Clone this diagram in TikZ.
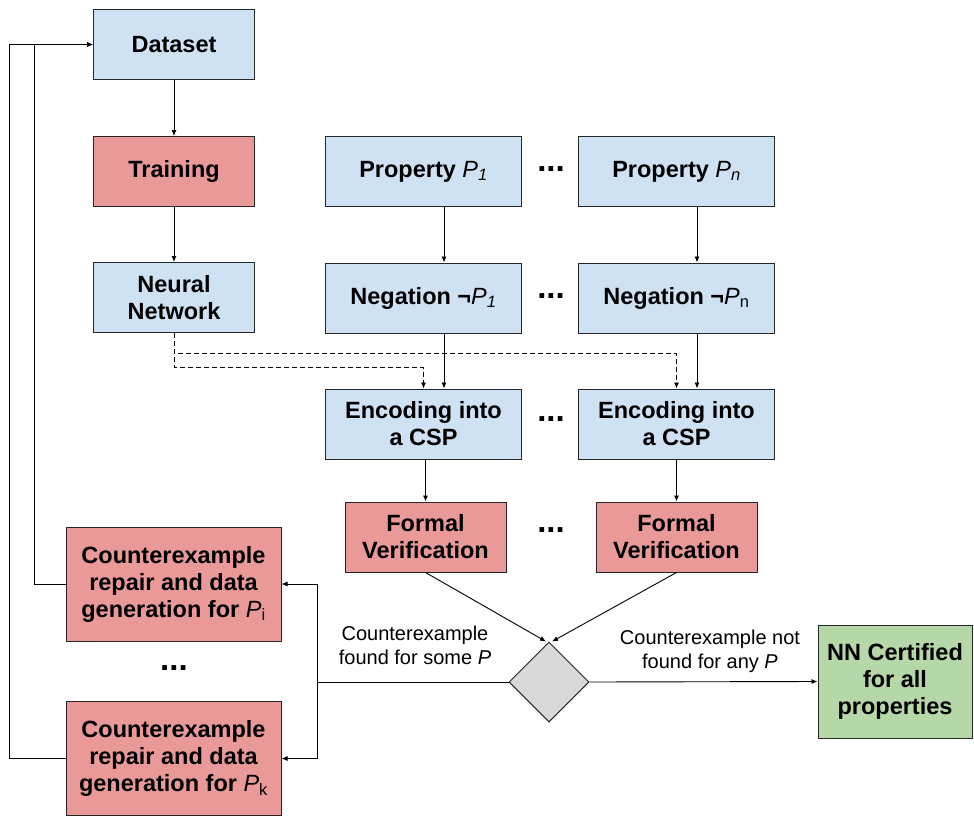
\documentclass[tikz,border=0pt]{standalone}
\usepackage{fontspec}
\setmainfont{Liberation Sans}
\usetikzlibrary{shapes.geometric,arrows.meta}
\definecolor{boxblue}{HTML}{CFE2F3}
\definecolor{boxred}{HTML}{EA9999}
\definecolor{boxgreen}{HTML}{B6D7A8}
\definecolor{boxgray}{HTML}{D9D9D9}

\begin{document}
\begin{tikzpicture}[x=1pt,y=-1pt,every node/.style={align=center,inner sep=0pt},
    box/.style={draw=black!85,line width=1pt,font=\fontsize{23.5}{27}\selectfont\bfseries},
    bluebox/.style={box,fill=boxblue},
    redbox/.style={box,fill=boxred},
    small/.style={minimum width=161,minimum height=70},
    mid/.style={minimum width=196,minimum height=70},
    big/.style={minimum width=215,minimum height=114},
    dots/.style={font=\fontsize{33}{33}\selectfont\bfseries},
    lbl/.style={font=\fontsize{20}{24}\selectfont},
    arr/.style={-{Latex[length=6pt,width=5pt]},line width=0.9pt},
    dasharr/.style={arr,dash pattern=on 5pt off 3pt}]
    \useasboundingbox (0,0) rectangle (974,816);

    \node[bluebox,small] (dataset) at (174,44.5) {Dataset};
    \node[redbox,small] (training) at (174,171.5) {Training};
    \node[bluebox,small] (nn) at (174,297.5) {Neural\\Network};

    \node[bluebox,mid] (prop1) at (423.5,171.5) {Property {\mdseries\itshape P\textsubscript{1}}};
    \node[bluebox,mid] (propn) at (676.5,171.5) {Property {\mdseries\itshape P\textsubscript{n}}};
    \node[bluebox,mid] (neg1) at (423.5,298) {Negation ¬{\mdseries\itshape P\textsubscript{1}}};
    \node[bluebox,mid] (negn) at (676.5,298) {Negation ¬{\mdseries\itshape P}\textsubscript{\mdseries n}};
    \node[bluebox,mid] (enc1) at (423.5,424) {Encoding into\\a CSP};
    \node[bluebox,mid] (encn) at (676.5,424) {Encoding into\\a CSP};
    \node[redbox,small,minimum height=70] (fv1) at (425.5,537) {Formal\\Verification};
    \node[redbox,small,minimum height=70] (fvn) at (676.5,537) {Formal\\Verification};

    \node[dots] at (551,169) {...};
    \node[dots] at (551,296) {...};
    \node[dots] at (551,419) {...};
    \node[dots] at (551,530) {...};
    \node[dots] at (174,668) {...};

    \node[draw=black!85,line width=1pt,fill=boxgray,diamond,aspect=1,minimum width=80,minimum height=80] (check) at (549,682) {};
    \node[box,fill=boxgreen,minimum width=154,minimum height=113] (cert) at (895,681.5) {NN Certified\\for all\\properties};

    \node[redbox,big] (cei) at (173.5,584) {Counterexample\\repair and data\\generation for {\mdseries\itshape P}\textsubscript{\mdseries i}};
    \node[redbox,big] (cek) at (173.5,758.5) {Counterexample\\repair and data\\generation for {\mdseries\itshape P}\textsubscript{\mdseries k}};

    \node[lbl] at (415,645) {Counterexample\\found for some \textit{P}};
    \node[lbl] at (710,651) {Counterexample not\\found for any \textit{P}};

    \coordinate (split) at (317,682);

    \draw[arr] (dataset) -- (training);
    \draw[arr] (training) -- (nn);
    \draw[arr] ([xshift=20.5pt]prop1.south) -- ([xshift=20.5pt]neg1.north);
    \draw[arr] ([xshift=20.5pt]propn.south) -- ([xshift=20.5pt]negn.north);
    \draw[arr] ([xshift=20.5pt]neg1.south) -- ([xshift=20.5pt]enc1.north);
    \draw[arr] ([xshift=20.5pt]negn.south) -- ([xshift=20.5pt]encn.north);
    \draw[dasharr] (nn.south) -- ++(0,34) -| (enc1.north);
    \draw[dasharr] (nn.south) -- ++(0,20) -| (encn.north);
    \draw[arr] (fv1.north |- enc1.south) -- (fv1.north);
    \draw[arr] (encn.south) -- (fvn.north);
    \draw[arr] (fv1.south) -- ([xshift=-3pt]check.north);
    \draw[arr] (fvn.south) -- ([xshift=3pt]check.north);
    \draw[arr] (check.east) -- (cert.west);
    \draw[line width=0.9pt] (check.west) -- (split);
    \draw[arr] (split) |- (cei.east);
    \draw[arr] (split) |- (cek.east);
    \draw[arr] (cei.west) -- ++(-31,0) |- (dataset.west);
    \draw[arr] (cek.west) -- ++(-56,0) |- (dataset.west);
\end{tikzpicture}
\end{document}
